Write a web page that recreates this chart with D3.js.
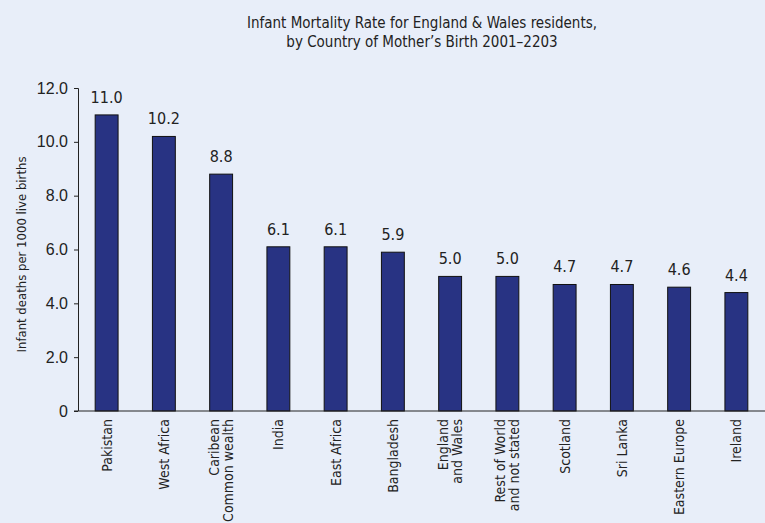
<!DOCTYPE html>
<html>
<head>
<meta charset="utf-8">
<script src="https://cdn.jsdelivr.net/npm/d3@7"></script>
<style>
  body { margin: 0; background: #e8eef9; }
  svg { display: block; font-family: "Liberation Sans Narrow", "DejaVu Sans Condensed", sans-serif; }
</style>
</head>
<body>
<svg width="765" height="523"></svg>
<script>
// data
var categories = [
  ["Pakistan"], ["West Africa"], ["Caribean", "Common wealth"], ["India"],
  ["East Africa"], ["Bangladesh"], ["England", "and Wales"],
  ["Rest of World", "and not stated"], ["Scotland"], ["Sri Lanka"],
  ["Eastern Europe"], ["Ireland"]
];
var values = [11.0, 10.2, 8.8, 6.1, 6.1, 5.9, 5.0, 5.0, 4.7, 4.7, 4.6, 4.4];
var yTicks = [0, 2, 4, 6, 8, 10, 12];
var titleLines = ["Infant Mortality Rate for England & Wales residents,",
                  "by Country of Mother\u2019s Birth 2001\u20132203"];

var svg = d3.select("svg"),
    margin = {top: 88, right: 0, bottom: 112, left: 78},
    width = 765 - margin.left - margin.right,
    height = 523 - margin.top - margin.bottom;

var data = values.map(function(v, i) { return {name: categories[i], value: v, i: i}; });

var x = d3.scaleBand()
    .domain(d3.range(values.length))
    .range([0, width])
    .paddingInner(0.6)
    .paddingOuter(0.3);

var y = d3.scaleLinear().domain([0, 12]).range([height, 0]);

// title
svg.append("g").selectAll("text")
    .data(titleLines)
  .enter().append("text")
    .attr("x", 422)
    .attr("y", function(d, i) { return 28 + i * 19; })
    .attr("text-anchor", "middle")
    .style("font-size", "15px")
    .style("fill", "#222")
    .text(function(d) { return d; });

var g = svg.append("g").attr("transform", "translate(" + margin.left + "," + margin.top + ")");

// bars
g.selectAll(".bar")
    .data(data)
  .enter().append("rect")
    .attr("x", function(d) { return x(d.i); })
    .attr("y", function(d) { return y(d.value); })
    .attr("width", x.bandwidth())
    .attr("height", function(d) { return height - y(d.value); })
    .style("fill", "#283383")
    .style("stroke", "#111")
    .style("stroke-width", 1);

// value labels
g.selectAll(".val")
    .data(data)
  .enter().append("text")
    .attr("x", function(d) { return x(d.i) + x.bandwidth() / 2; })
    .attr("y", function(d) { return y(d.value) - 12; })
    .attr("text-anchor", "middle")
    .style("font-size", "16px")
    .style("fill", "#222")
    .text(function(d) { return d.value.toFixed(1); });

// y axis
var yAxis = g.append("g")
    .call(d3.axisLeft(y).tickValues(yTicks).tickSize(4).tickPadding(6)
      .tickFormat(function(d) { return d === 0 ? "0" : d.toFixed(1); }));
yAxis.select(".domain").attr("d", "M-4,0.5H0.5V" + height);
yAxis.selectAll("text").style("font-size", "16px").style("fill", "#222")
    .style("font-family", "inherit");
yAxis.selectAll("line, path").style("stroke", "#222");

// x axis baseline
g.append("line")
    .attr("x1", -4).attr("x2", width)
    .attr("y1", height).attr("y2", height)
    .style("stroke", "#222");

// category labels, rotated
var lab = g.selectAll(".cat")
    .data(data)
  .enter().append("text")
    .attr("transform", function(d) {
      var cx = x(d.i) + x.bandwidth() / 2;
      return "translate(" + cx + "," + (height + 8) + ") rotate(-90)";
    })
    .attr("text-anchor", "end")
    .style("font-size", "14px")
    .style("fill", "#222");

lab.selectAll("tspan")
    .data(function(d) { return d.name.map(function(s, j) { return {s: s, j: j, n: d.name.length}; }); })
  .enter().append("tspan")
    .attr("x", 0)
    .attr("y", function(t) { return 5 + (t.j - (t.n - 1) / 2) * 14; })
    .text(function(t) { return t.s; });

// y axis title
svg.append("text")
    .attr("transform", "translate(26," + (margin.top + height / 2 + 5) + ") rotate(-90)")
    .attr("text-anchor", "middle")
    .style("font-size", "13px")
    .style("fill", "#222")
    .text("Infant deaths per 1000 live births");
</script>
</body>
</html>
